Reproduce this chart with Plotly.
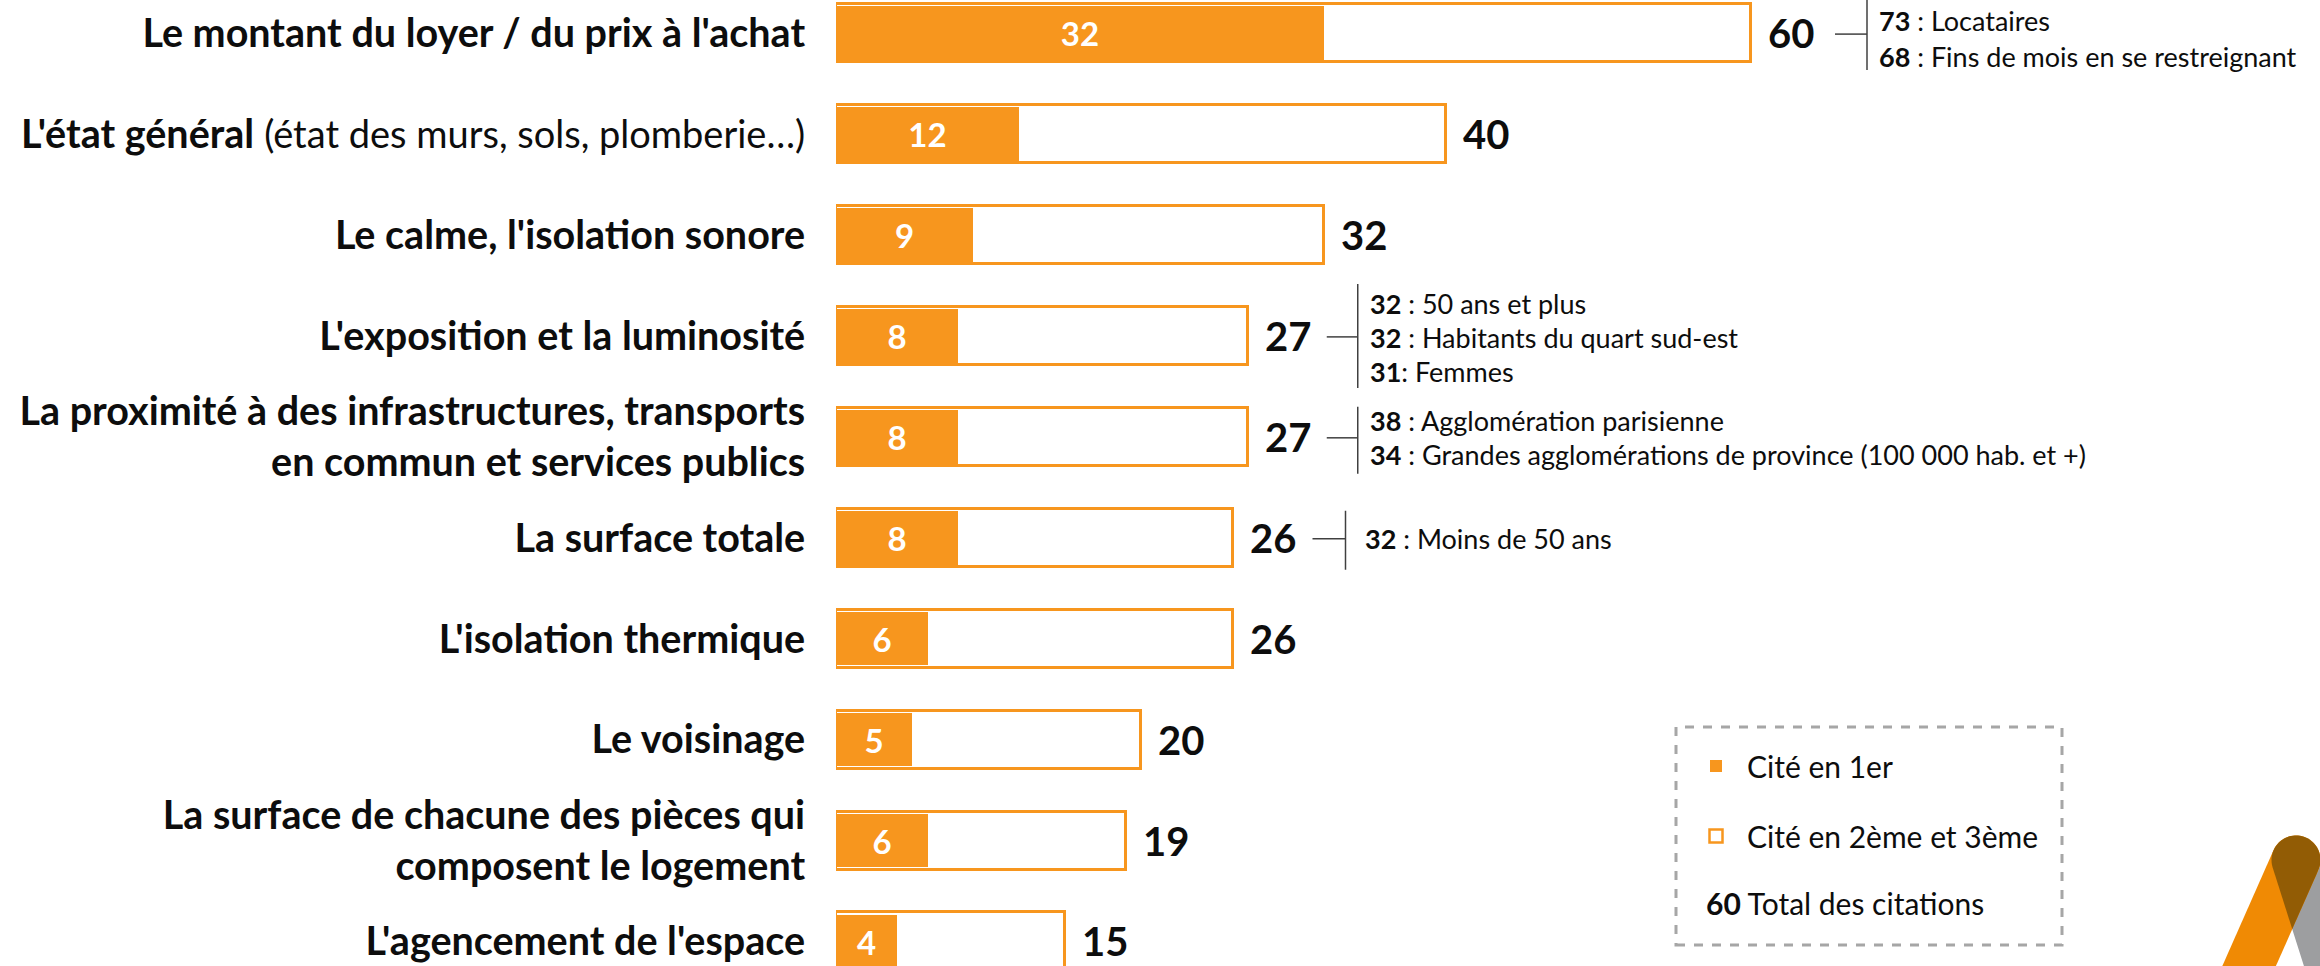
import numpy as np
import plotly.graph_objects as go

W, H = 2320, 966

# ---------------- data ----------------
categories = [
    "Le montant du loyer / du prix à l'achat",
    "L'état général (état des murs, sols, plomberie…)",
    "Le calme, l'isolation sonore",
    "L'exposition et la luminosité",
    "La proximité à des infrastructures, transports en commun et services publics",
    "La surface totale",
    "L'isolation thermique",
    "Le voisinage",
    "La surface de chacune des pièces qui composent le logement",
    "L'agencement de l'espace",
]
tick_labels = [
    "<b>Le montant du loyer / du prix à l'achat</b>",
    "<b>L'état général</b> <span style='font-size:38px'>(état des murs, sols, plomberie…)</span>",
    "<b>Le calme, l'isolation sonore</b>",
    "<b>L'exposition et la luminosité</b>",
    "<b>La proximité à des infrastructures, transports</b><br><b>en commun et services publics</b>",
    "<b>La surface totale</b>",
    "<b>L'isolation thermique</b>",
    "<b>Le voisinage</b>",
    "<b>La surface de chacune des pièces qui</b><br><b>composent le logement</b>",
    "<b>L'agencement de l'espace</b>",
]
cited_first = [32, 12, 9, 8, 8, 8, 6, 5, 6, 4]
cited_total = [60, 40, 32, 27, 27, 26, 26, 20, 19, 15]

# sub-group call-outs: category index -> (values, labels)
callout_values = {
    0: ["73", "68"],
    3: ["32", "32", "31"],
    4: ["38", "34"],
    5: ["32"],
}
callout_labels = {
    0: [" : Locataires", " : Fins de mois en se restreignant"],
    3: [" : 50 ans et plus", " : Habitants du quart sud-est", ": Femmes"],
    4: [" : Agglomération parisienne",
        " : Grandes agglomérations de province (100 000 hab. et +)"],
    5: [" : Moins de 50 ans"],
}

legend_labels = ["Cité en 1er", "Cité en 2ème et 3ème", "Total des citations"]
legend_total_sample = "60"

# ---------------- styles / layout ----------------
ORANGE = "#F7961E"
FONT = "Lato, 'Open Sans', sans-serif"
TXT = "#0D0D0D"

x0_px = 836          # left edge of plot area
px_per_unit = 15.25
bar_pitch = 100.93
first_center = 33.1

x_max = (W - x0_px) / px_per_unit
y_top = -first_center / bar_pitch
y_bot = (H - first_center) / bar_pitch

# call-out geometry in screen pixels (relative to bar end / bar centre)
callout_text_dy = {0: [-12.5, 23], 3: [-32.5, 1.5, 35.6], 4: [-16.5, 17.5], 5: [1]}
callout_vspan = {0: (-33, 37), 3: (-52, 52), 4: (-30, 37), 5: (-27, 32)}
callout_hline = {0: (84, 116), 3: (79, 110), 4: (79, 110), 5: (80, 113)}
callout_text_dx = {0: 126, 3: 120, 4: 120, 5: 130}

fig = go.Figure()

fig.add_trace(go.Bar(
    y=categories, x=cited_total, orientation="h",
    name="Total",
    marker=dict(color="white", line=dict(color=ORANGE, width=3)),
    width=0.575, hoverinfo="skip", showlegend=False,
))
fig.add_trace(go.Bar(
    y=categories, x=cited_first, orientation="h",
    name=legend_labels[0],
    marker=dict(color=ORANGE, line=dict(width=0)),
    width=0.53,
    text=cited_first, texttemplate="<b>%{x}</b>",
    textposition="inside", insidetextanchor="middle", textangle=0,
    textfont=dict(color="white", size=33, family=FONT),
    constraintext="none",
    hoverinfo="skip", showlegend=False,
))

annotations = []
shapes = []

# totals
for cat, tot in zip(categories, cited_total):
    annotations.append(dict(
        x=tot, y=cat, xref="x", yref="y", xanchor="left", yanchor="middle",
        xshift=15, text=f"<b>{tot}</b>", showarrow=False,
        font=dict(size=40, color=TXT, family=FONT),
    ))

# call-outs
for idx, vals in callout_values.items():
    cat = categories[idx]
    tot = cited_total[idx]
    hx0, hx1 = callout_hline[idx]
    shapes.append(dict(
        type="line", xref="x", yref="y", xsizemode="pixel", ysizemode="pixel",
        xanchor=tot, yanchor=cat, x0=hx0, x1=hx1, y0=-1, y1=-1,
        line=dict(color="#404040", width=1.5),
    ))
    v0, v1 = callout_vspan[idx]
    shapes.append(dict(
        type="line", xref="x", yref="y", xsizemode="pixel", ysizemode="pixel",
        xanchor=tot, yanchor=cat, x0=hx1, x1=hx1, y0=-v0, y1=-v1,
        line=dict(color="#404040", width=1.5),
    ))
    for v, lab, dy in zip(vals, callout_labels[idx], callout_text_dy[idx]):
        annotations.append(dict(
            x=tot, y=cat, xref="x", yref="y", xanchor="left", yanchor="middle",
            xshift=callout_text_dx[idx], yshift=-dy,
            text=f"<b>{v}</b>{lab}", showarrow=False,
            font=dict(size=27, color=TXT, family=FONT),
        ))


def px(x, y):
    return x / W, 1 - y / H


def path_from(points):
    pts = [f"{x / W:.5f},{1 - y / H:.5f}" for x, y in points]
    return "M " + " L ".join(pts) + " Z"


# legend box
lx0, ly0 = px(1676, 727)
lx1, ly1 = px(2062, 945)
shapes.append(dict(type="rect", xref="paper", yref="paper",
                   x0=lx0, x1=lx1, y0=ly1, y1=ly0,
                   line=dict(color="#A6A6A6", width=3, dash="dash"),
                   fillcolor="rgba(0,0,0,0)"))
a, b = px(1710, 760)
c, d = px(1722, 772)
shapes.append(dict(type="rect", xref="paper", yref="paper", x0=a, x1=c, y0=d, y1=b,
                   fillcolor=ORANGE, line=dict(width=0)))
a, b = px(1709.5, 829.5)
c, d = px(1722.5, 842.5)
shapes.append(dict(type="rect", xref="paper", yref="paper", x0=a, x1=c, y0=d, y1=b,
                   fillcolor="white", line=dict(color=ORANGE, width=2.5)))
for lab, (lxp, lyp) in zip(
        [legend_labels[0], legend_labels[1],
         f"<b>{legend_total_sample}</b> {legend_labels[2]}"],
        [(1745, 766), (1745, 836), (1704, 903)]):
    xx, yy = px(lxp, lyp)
    annotations.append(dict(x=xx, y=yy, xref="paper", yref="paper",
                            xanchor="left", yanchor="middle", text=lab,
                            showarrow=False,
                            font=dict(size=30, color=TXT, family=FONT)))

# logo (decorative)
C = np.array([2296.0, 860.0])
r = 24.5
u_o = np.array([-46.0, 104.0]); u_o /= np.linalg.norm(u_o)
n_o = np.array([u_o[1], -u_o[0]])
u_g = np.array([33.0, 104.0]); u_g /= np.linalg.norm(u_g)
n_g = np.array([-u_g[1], u_g[0]])
if n_g[0] > 0:
    n_g = -n_g
L_ext = 200


def band(u, n):
    ang_n = np.degrees(np.arctan2(n[1], n[0]))
    arc = [C + r * np.array([np.cos(np.radians(t)), np.sin(np.radians(t))])
           for t in np.linspace(ang_n, ang_n - 180, 40)]
    p_end1 = C - r * n + L_ext * u
    p_end2 = C + r * n + L_ext * u
    return [tuple(p) for p in arc] + [tuple(p_end1), tuple(p_end2)]


grey_pts = band(u_g, n_g)
orange_pts = band(u_o, n_o)
R_o = C + r * n_o
L_g = C + r * n_g
t, s = np.linalg.solve(np.array([[u_o[0], -u_g[0]], [u_o[1], -u_g[1]]]), L_g - R_o)
Pc = R_o + t * u_o
ang_ro = np.degrees(np.arctan2(n_o[1], n_o[0]))
ang_lg = np.degrees(np.arctan2(n_g[1], n_g[0])) - 360
brown_pts = [tuple(C + r * np.array([np.cos(np.radians(tt)), np.sin(np.radians(tt))]))
             for tt in np.linspace(ang_ro, ang_lg, 50)] + [tuple(Pc)]

shapes.append(dict(type="path", xref="paper", yref="paper", path=path_from(grey_pts),
                   fillcolor="#9D9EA0", line=dict(width=0), layer="above"))
shapes.append(dict(type="path", xref="paper", yref="paper", path=path_from(orange_pts),
                   fillcolor="#F08A04", line=dict(width=0), layer="above"))
shapes.append(dict(type="path", xref="paper", yref="paper", path=path_from(brown_pts),
                   fillcolor="#925C05", line=dict(width=0), layer="above"))

fig.update_layout(
    width=W, height=H,
    margin=dict(l=0, r=0, t=0, b=0, pad=0),
    paper_bgcolor="white", plot_bgcolor="white",
    barmode="overlay", bargap=0,
    showlegend=False,
    font=dict(family=FONT, color=TXT),
    xaxis=dict(domain=[x0_px / W, 1], range=[0, x_max], visible=False,
               fixedrange=True),
    yaxis=dict(type="category", categoryorder="array", categoryarray=categories,
               range=[y_bot, y_top], tickvals=categories, ticktext=tick_labels,
               ticks="outside", ticklen=22, tickcolor="rgba(0,0,0,0)",
               showgrid=False, zeroline=False, showline=False,
               tickfont=dict(size=39.5, color=TXT, family=FONT),
               automargin=False, fixedrange=True),
    annotations=annotations,
    shapes=shapes,
)

fig.write_html("out.html", post_script="document.body.style.margin='0';",
               config={"displayModeBar": False})
